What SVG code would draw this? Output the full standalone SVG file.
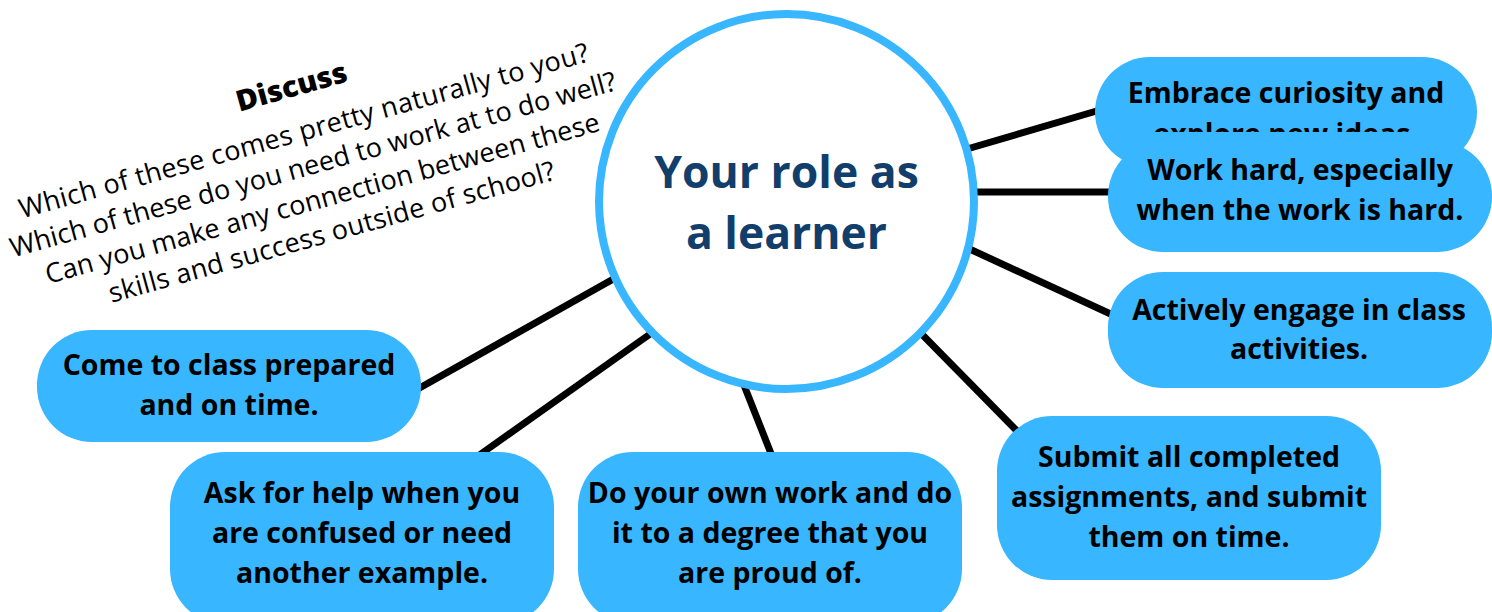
<svg xmlns="http://www.w3.org/2000/svg" width="1492" height="612" viewBox="0 0 1492 612">
<style>
.node{fill:#38b6ff}
.nt{font-family:"Open Sans","Liberation Sans",sans-serif;font-weight:700;font-size:28.5px;fill:#000;text-anchor:middle}
.q{font-family:"Open Sans","Liberation Sans",sans-serif;font-size:27px;fill:#000;text-anchor:middle}
.conn{stroke:#000;stroke-width:7;fill:none}
</style>
<defs>
<clipPath id="clipEmb"><rect x="1095" y="57" width="382" height="75"/></clipPath>
</defs>
<rect width="1492" height="612" fill="#fff"/>
<g id="discuss" transform="translate(315.5,173.5) rotate(-15.5)">
<text x="0" y="-80" font-family="'Open Sans','Liberation Sans',sans-serif" font-weight="800" font-size="29" text-anchor="middle" fill="#000" textLength="114" lengthAdjust="spacingAndGlyphs">Discuss</text>
<text class="q" x="0" y="-35" textLength="590">Which of these comes pretty naturally to you?</text>
<text class="q" x="0" y="0" textLength="628">Which of these do you need to work at to do well?</text>
<text class="q" x="0" y="35" textLength="574">Can you make any connection between these</text>
<text class="q" x="0" y="70" textLength="462">skills and success outside of school?</text>
</g>
<g id="connectors">
<line class="conn" x1="950" y1="154" x2="1100" y2="110"/>
<line class="conn" x1="960" y1="192" x2="1115" y2="192"/>
<line class="conn" x1="950" y1="240" x2="1115" y2="316"/>
<line class="conn" x1="900" y1="312" x2="1022" y2="436"/>
<line class="conn" x1="738" y1="370" x2="772" y2="456"/>
<line class="conn" x1="660" y1="327" x2="478" y2="456"/>
<line class="conn" x1="640" y1="264" x2="416" y2="390"/>
</g>
<g id="center">
<circle cx="786.5" cy="201.5" r="187.5" fill="#fff" stroke="#38b6ff" stroke-width="8"/>
<text x="786.5" y="188" font-family="'Open Sans','Liberation Sans',sans-serif" font-weight="700" font-size="44.5" fill="#123e6b" text-anchor="middle">Your role as</text>
<text x="786.5" y="249" font-family="'Open Sans','Liberation Sans',sans-serif" font-weight="700" font-size="44.5" fill="#123e6b" text-anchor="middle">a learner</text>
</g>
<g id="n-embrace">
<rect class="node" x="1095" y="57" width="382" height="110" rx="55"/>
<text class="nt" x="1286" y="103">Embrace curiosity and</text>
<text class="nt" x="1286" y="144" clip-path="url(#clipEmb)">explore new ideas.</text>
</g>
<g id="n-workhard">
<rect class="node" x="1108" y="141" width="384" height="111" rx="55"/>
<text class="nt" x="1300" y="180">Work hard, especially</text>
<text class="nt" x="1300" y="220">when the work is hard.</text>
</g>
<g id="n-actively">
<rect class="node" x="1108" y="272" width="384" height="116" rx="55"/>
<text class="nt" x="1299" y="320">Actively engage in class</text>
<text class="nt" x="1299" y="359">activities.</text>
</g>
<g id="n-submit">
<rect class="node" x="997" y="416" width="384" height="164" rx="55"/>
<text class="nt" x="1189" y="467">Submit all completed</text>
<text class="nt" x="1189" y="507">assignments, and submit</text>
<text class="nt" x="1189" y="547">them on time.</text>
</g>
<g id="n-ownwork">
<rect class="node" x="578" y="452" width="384" height="172" rx="55"/>
<text class="nt" x="770" y="503">Do your own work and do</text>
<text class="nt" x="770" y="543">it to a degree that you</text>
<text class="nt" x="770" y="583">are proud of.</text>
</g>
<g id="n-askhelp">
<rect class="node" x="170" y="452" width="384" height="172" rx="55"/>
<text class="nt" x="362" y="503">Ask for help when you</text>
<text class="nt" x="362" y="543">are confused or need</text>
<text class="nt" x="362" y="583">another example.</text>
</g>
<g id="n-prepared">
<rect class="node" x="37" y="330" width="384" height="112" rx="55"/>
<text class="nt" x="229" y="375">Come to class prepared</text>
<text class="nt" x="229" y="415">and on time.</text>
</g>
</svg>
